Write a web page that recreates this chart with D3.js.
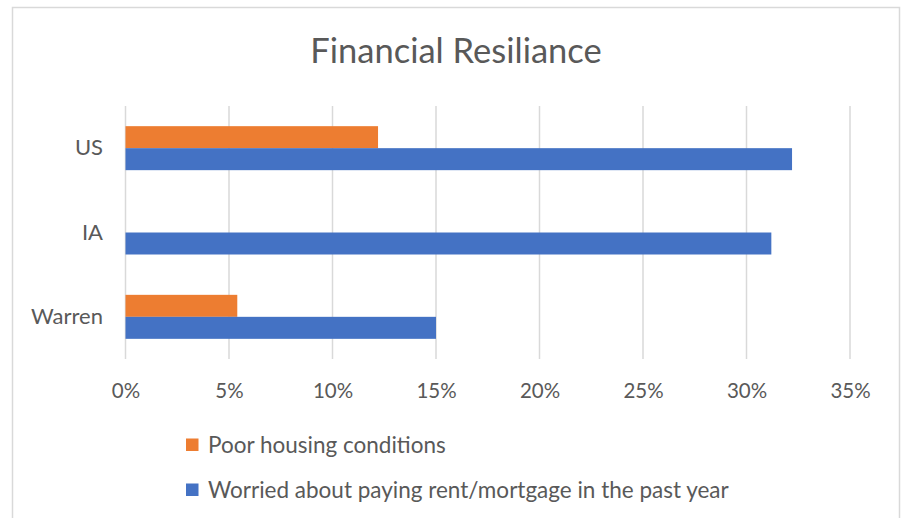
<!DOCTYPE html>
<html>
<head>
<meta charset="utf-8">
<script src="https://cdn.jsdelivr.net/npm/d3@7"></script>
<style>
  html, body { margin: 0; padding: 0; background: #fff; }
  svg { display: block; }
  text { font-family: Lato, "Open Sans", sans-serif; fill: #595959; }
</style>
</head>
<body>
<svg id="chart" width="906" height="518"></svg>
<script>
const title = "Financial Resiliance";
const categories = ["US", "IA", "Warren"];
const seriesNames = ["Poor housing conditions", "Worried about paying rent/mortgage in the past year"];
const poorHousing = [0.122, null, 0.054];
const worried = [0.322, 0.312, 0.150];
const seriesColors = ["#ED7D31", "#4472C4"];
const tickValues = [0, 0.05, 0.10, 0.15, 0.20, 0.25, 0.30, 0.35];

const seriesValues = [poorHousing, worried];

const svg = d3.select("#chart");

// outer border
svg.append("rect")
  .attr("x", 12.5).attr("y", 7.5)
  .attr("width", 887).attr("height", 520)
  .attr("fill", "#fff")
  .attr("stroke", "#D9D9D9").attr("stroke-width", 1.5);

const x = d3.scaleLinear().domain([0, 0.35]).range([125.5, 850]);
const y = d3.scaleBand().domain(categories).range([106, 359]).paddingInner(0).paddingOuter(0);
const groupH = 44;
const ySub = d3.scaleBand().domain(d3.range(seriesNames.length)).range([0, groupH]);

// title
svg.append("text")
  .attr("x", 456).attr("y", 63)
  .attr("text-anchor", "middle")
  .style("font-size", "34.5px")
  .text(title);

// gridlines
const grid = svg.append("g");
grid.selectAll("line").data(tickValues).join("line")
  .attr("x1", d => x(d)).attr("x2", d => x(d))
  .attr("y1", 106).attr("y2", 359)
  .attr("stroke", "#D9D9D9").attr("stroke-width", 1.5);

// bars
const rows = [];
categories.forEach((c, i) => {
  seriesValues.forEach((vals, s) => {
    if (vals[i] != null) rows.push({cat: c, s, v: vals[i]});
  });
});
svg.append("g").selectAll("rect").data(rows).join("rect")
  .attr("x", x(0))
  .attr("y", d => y(d.cat) + y.bandwidth() / 2 - groupH / 2 + ySub(d.s))
  .attr("width", d => x(d.v) - x(0))
  .attr("height", ySub.bandwidth())
  .attr("fill", d => seriesColors[d.s]);

// x axis labels
const xAxis = d3.axisBottom(x).tickValues(tickValues).tickFormat(d3.format(".0%")).tickSize(0).tickPadding(0);
const gx = svg.append("g").attr("transform", "translate(0,382)").call(xAxis);
gx.select(".domain").remove();
gx.selectAll("text").style("font-size", "20.5px").attr("dy", "0.78em").attr("y", 0)
  .style("fill", "#595959").style("font-family", "Lato, 'Open Sans', sans-serif");

// y axis labels
const yAxis = d3.axisLeft(y).tickSize(0).tickPadding(0);
const gy = svg.append("g").attr("transform", "translate(103,0)").call(yAxis);
gy.select(".domain").remove();
gy.selectAll("text").style("font-size", "22px").attr("x", 0)
  .style("fill", "#595959").style("font-family", "Lato, 'Open Sans', sans-serif");

// legend
const legend = svg.append("g");
const legY = [445, 490];
seriesNames.forEach((name, i) => {
  legend.append("rect")
    .attr("x", 186).attr("y", legY[i] - 6.5)
    .attr("width", 12.5).attr("height", 12.5)
    .attr("fill", seriesColors[i]);
  legend.append("text")
    .attr("x", 208).attr("y", legY[i])
    .attr("dy", "0.35em")
    .style("font-size", "22.5px")
    .text(name);
});
</script>
</body>
</html>
